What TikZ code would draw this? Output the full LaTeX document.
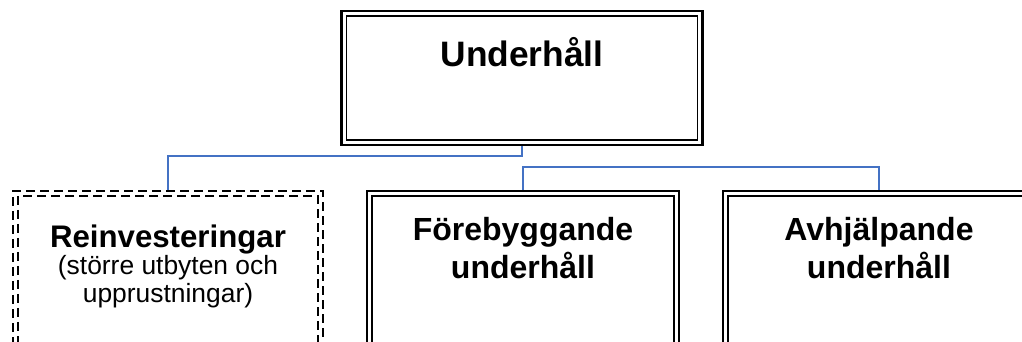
\documentclass[tikz,border=0pt]{standalone}
\usepackage{fontspec}
\setmainfont{Liberation Sans}
\usepackage{tikz}
\usetikzlibrary{positioning}
\definecolor{linkblue}{HTML}{4472C4}

\begin{document}
\begin{tikzpicture}[
  x=0.75pt, y=-0.75pt,
  every node/.style={inner sep=0pt},
  frame/.style={draw, line width=1.6pt, fill=white,
    path picture={\draw[line width=0.9pt, #1]
      ([shift={(3.75pt,-3.75pt)}]path picture bounding box.north west) rectangle
      ([shift={(-3.75pt,3.75pt)}]path picture bounding box.south east);}},
  topbox/.style={frame=solid, minimum width=270.75pt, minimum height=100.5pt},
  subbox/.style={frame=solid, minimum width=234pt, minimum height=150pt},
  dashbox/.style={frame={dash pattern=on 7pt off 3.5pt}, dash pattern=on 7pt off 3.5pt,
    minimum width=232.5pt, minimum height=150pt},
  head/.style={font=\bfseries\fontsize{24}{28.5}\selectfont, align=center, anchor=base},
  link/.style={draw=linkblue, line width=1pt},
]
\useasboundingbox (0,0) rectangle (1022,342);
\clip (0,0) rectangle (1022,342);

% -- boxes --
\node[topbox]  (top)   at (522,78)  {};
\node[dashbox] (reinv) at (168,291) {};
\node[subbox]  (fore)  at (523,291) {};
\node[subbox]  (avhj)  at (879,291) {};

% -- texts (base = last line) --
\node[head, font=\bfseries\fontsize{26.5}{30}\selectfont] (ttop) at (522,67) {Underhåll};
\node[align=center, anchor=base, font=\fontsize{19.8}{20.5}\selectfont] (treinv) at (168,302)
  {{\bfseries\fontsize{23.4}{26}\selectfont Reinvesteringar}\\(större utbyten och\\upprustningar)};
\node[head] (tfore) at (523,279) {Förebyggande\\underhåll};
\node[head] (tavhj) at (879,279) {Avhjälpande\\underhåll};

% -- connectors --
\draw[link] (top.south) -- ++(0,10) -| (reinv.north);
\draw[link] (fore.north) -- ++(0,-23) -| (avhj.north);

\end{tikzpicture}
\end{document}
